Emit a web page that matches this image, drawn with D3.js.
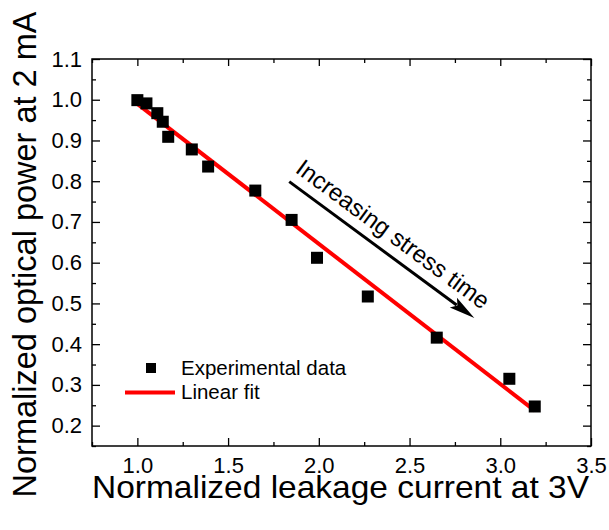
<!DOCTYPE html>
<html>
<head>
<meta charset="utf-8">
<script src="https://cdn.jsdelivr.net/npm/d3@7"></script>
<style>
  body { margin: 0; background: #fff; }
  svg text { font-family: "Liberation Sans", Arial, sans-serif; fill: #000; }
</style>
</head>
<body>
<div class="chart"></div>
<script>
// data
var leakage = [1.0, 1.05, 1.11, 1.14, 1.17, 1.30, 1.39, 1.65, 1.85, 1.99, 2.27, 2.65, 3.05, 3.19];
var power = [0.999, 0.991, 0.967, 0.946, 0.909, 0.878, 0.836, 0.777, 0.705, 0.612, 0.517, 0.416, 0.315, 0.247];

// linear fit end points
var fitX = [1.0, 3.19];
var fitY = [0.99, 0.237];

// annotation arrow (data coords)
var arrowX = [1.837, 2.857];
var arrowY = [0.799, 0.464];

var xMajor = [1.0, 1.5, 2.0, 2.5, 3.0, 3.5];
var xMinor = [0.75, 1.25, 1.75, 2.25, 2.75, 3.25];
var yMajor = [0.2, 0.3, 0.4, 0.5, 0.6, 0.7, 0.8, 0.9, 1.0, 1.1];
var yMinor = [0.15, 0.25, 0.35, 0.45, 0.55, 0.65, 0.75, 0.85, 0.95, 1.05];

var svgWidth = 609;
var svgHeight = 530;
var margin = { top: 59, right: 18, bottom: 84, left: 92 };
var width = svgWidth - margin.left - margin.right;
var height = svgHeight - margin.top - margin.bottom;

var svg = d3.select(".chart")
  .append("svg")
  .attr("width", svgWidth)
  .attr("height", svgHeight);

var chart = svg.append("g")
  .attr("transform", "translate(" + margin.left + "," + margin.top + ")");

var xScale = d3.scaleLinear().domain([0.75, 3.5]).range([0, width]);
var yScale = d3.scaleLinear().domain([0.15, 1.1]).range([height, 0]);

// axes, ticks pointing inward
function styleAxis(g) {
  g.select(".domain").remove();
  g.attr("font-size", 22).attr("font-family", null);
  g.selectAll("line").attr("stroke", "#000").attr("stroke-width", 1.3);
  g.selectAll("text").style("font-size", "22px");
}

chart.append("g")
  .attr("transform", "translate(0," + height + ")")
  .call(d3.axisBottom(xScale).tickValues(xMajor).tickSize(-8).tickPadding(11.5).tickFormat(d3.format(".1f")))
  .call(styleAxis);
chart.append("g")
  .attr("transform", "translate(0," + height + ")")
  .call(d3.axisBottom(xScale).tickValues(xMinor).tickSize(-4).tickFormat(""))
  .call(styleAxis);
chart.append("g")
  .call(d3.axisTop(xScale).tickValues(xMajor).tickSize(-7).tickFormat(""))
  .call(styleAxis);
chart.append("g")
  .call(d3.axisTop(xScale).tickValues(xMinor).tickSize(-4).tickFormat(""))
  .call(styleAxis);

chart.append("g")
  .call(d3.axisLeft(yScale).tickValues(yMajor).tickSize(-8).tickPadding(10).tickFormat(d3.format(".1f")))
  .call(styleAxis);
chart.append("g")
  .call(d3.axisLeft(yScale).tickValues(yMinor).tickSize(-4).tickFormat(""))
  .call(styleAxis);
chart.append("g")
  .attr("transform", "translate(" + width + ",0)")
  .call(d3.axisRight(yScale).tickValues(yMajor).tickSize(-8).tickFormat(""))
  .call(styleAxis);
chart.append("g")
  .attr("transform", "translate(" + width + ",0)")
  .call(d3.axisRight(yScale).tickValues(yMinor).tickSize(-4).tickFormat(""))
  .call(styleAxis);

// frame
chart.append("rect")
  .attr("width", width)
  .attr("height", height)
  .attr("fill", "none")
  .attr("stroke", "#000")
  .attr("stroke-width", 1.5);

// linear fit
var line = d3.line()
  .x(function (d) { return xScale(d[0]); })
  .y(function (d) { return yScale(d[1]); });

chart.append("path")
  .datum(d3.zip(fitX, fitY))
  .attr("d", line)
  .attr("fill", "none")
  .attr("stroke", "#ff0000")
  .attr("stroke-width", 4);

// data points
var sq = 12;
chart.selectAll(".pt")
  .data(d3.zip(leakage, power))
  .enter()
  .append("rect")
  .attr("class", "pt")
  .attr("x", function (d) { return xScale(d[0]) - sq / 2; })
  .attr("y", function (d) { return yScale(d[1]) - sq / 2; })
  .attr("width", sq)
  .attr("height", sq)
  .attr("fill", "#000");

// arrow annotation
var ax0 = xScale(arrowX[0]), ay0 = yScale(arrowY[0]);
var ax1 = xScale(arrowX[1]), ay1 = yScale(arrowY[1]);
var angDeg = Math.atan2(ay1 - ay0, ax1 - ax0) * 180 / Math.PI;
var len = Math.hypot(ax1 - ax0, ay1 - ay0);
var headLen = 26, headW = 6;

var arrow = chart.append("g")
  .attr("transform", "translate(" + ax0 + "," + ay0 + ")rotate(" + angDeg + ")");
arrow.append("line")
  .attr("x1", 0).attr("y1", 0)
  .attr("x2", len - headLen + 4).attr("y2", 0)
  .attr("stroke", "#000")
  .attr("stroke-width", 3);
arrow.append("path")
  .attr("d", "M" + len + ",0L" + (len - headLen) + "," + (-headW) + "L" + (len - headLen + 5) + ",0L" + (len - headLen) + "," + headW + "Z")
  .attr("fill", "#000");
arrow.append("text")
  .attr("x", -2)
  .attr("y", -11)
  .style("font-size", "24px")
  .text("Increasing stress time");

// legend
var legend = chart.append("g");
legend.append("rect")
  .attr("x", 151 - margin.left - 5)
  .attr("y", 368 - margin.top - 5)
  .attr("width", 10)
  .attr("height", 10)
  .attr("fill", "#000");
legend.append("text")
  .attr("x", 181 - margin.left)
  .attr("y", 375 - margin.top)
  .style("font-size", "20.5px")
  .text("Experimental data");
legend.append("line")
  .attr("x1", 125 - margin.left)
  .attr("x2", 175 - margin.left)
  .attr("y1", 392.5 - margin.top)
  .attr("y2", 392.5 - margin.top)
  .attr("stroke", "#ff0000")
  .attr("stroke-width", 4);
legend.append("text")
  .attr("x", 181 - margin.left)
  .attr("y", 399 - margin.top)
  .style("font-size", "20.5px")
  .text("Linear fit");

// axis titles
svg.append("text")
  .attr("x", 92)
  .attr("y", 498)
  .attr("textLength", 497)
  .attr("lengthAdjust", "spacingAndGlyphs")
  .style("font-size", "32px")
  .text("Normalized leakage current at 3V");

svg.append("text")
  .attr("transform", "translate(36,254.5)rotate(-90)")
  .attr("text-anchor", "middle")
  .style("font-size", "32.5px")
  .text("Normalized optical power at 2 mA");
</script>
</body>
</html>
